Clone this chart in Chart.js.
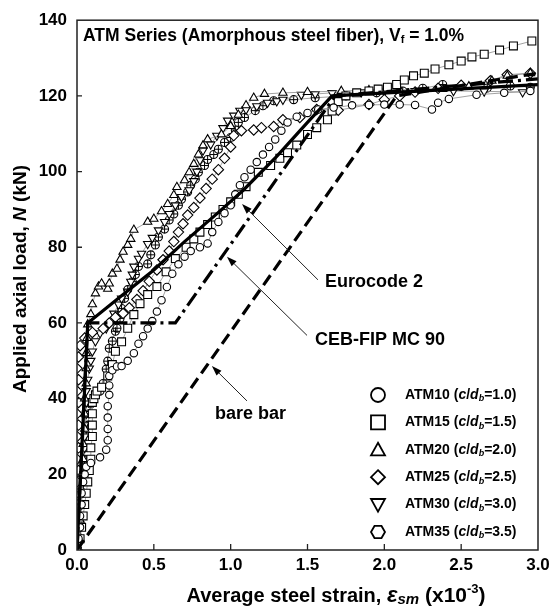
<!DOCTYPE html>
<html lang="en">
<head>
<meta charset="UTF-8">
<title>ATM Series - Applied axial load vs average steel strain</title>
<script src="https://cdn.jsdelivr.net/npm/chart.js"></script>
<style>
  html, body { margin: 0; padding: 0; background: #fff; }
</style>
</head>
<body>
<canvas id="chart" width="560" height="608"></canvas>
<script>
// ---- data (x: strain x10^-3, y: load kN) ----
const atm10 = [[0,0],[0.01,3],[0.02,6],[0.02,9],[0.03,12],[0.03,15],[0.04,18],[0.05,20],[0.06,22],[0.09,23],[0.15,24.5],[0.19,26.5],[0.2,29],[0.2,32],[0.2,35],[0.2,38],[0.21,41],[0.21,43.5],[0.21,46],[0.23,47.5],[0.26,48.5],[0.29,48.6],[0.33,50],[0.37,52],[0.4,54.5],[0.43,56.5],[0.46,58.5],[0.49,60.5],[0.52,63],[0.55,66],[0.585,69.5],[0.62,73],[0.66,75.5],[0.7,77.5],[0.74,79],[0.8,80],[0.85,81],[0.88,84],[0.92,86.7],[0.96,89],[1.0,91.1],[1.03,94],[1.06,96.4],[1.09,98.5],[1.13,100.5],[1.17,102.5],[1.21,104.5],[1.25,106.5],[1.29,108.5],[1.33,110.8],[1.37,113],[1.43,114.5],[1.5,115.5],[1.57,116.4],[1.67,116.9],[1.79,117.5],[1.9,117.6],[2.0,117.7],[2.1,117.7],[2.2,117.6],[2.31,116.4],[2.35,118.2],[2.42,119.2],[2.6,120.3],[2.78,120.8],[2.95,121.3]];
const atm15 = [[0,0],[0.02,3],[0.03,6],[0.04,9],[0.05,12],[0.06,15],[0.07,18],[0.08,21],[0.09,24],[0.09,27],[0.1,30],[0.1,33],[0.1,36],[0.1,39],[0.11,40],[0.12,41],[0.13,42],[0.16,43],[0.2,46],[0.23,49],[0.25,52.5],[0.29,55],[0.33,58.6],[0.37,62.2],[0.41,65.1],[0.46,67.5],[0.52,69.6],[0.58,73.5],[0.64,77],[0.71,80],[0.76,82.2],[0.8,84],[0.85,86],[0.9,88],[0.95,90],[1.0,92],[1.05,94],[1.1,96],[1.18,99.8],[1.26,101.6],[1.32,103.5],[1.37,105],[1.43,107],[1.5,109.8],[1.56,111.6],[1.63,113.7],[1.66,116],[1.7,118.5],[1.75,120],[1.82,120.8],[1.9,121.3],[1.96,121.8],[2.02,122.3],[2.08,123],[2.13,124.2],[2.19,125.3],[2.26,126],[2.33,127.1],[2.42,128.2],[2.5,129.2],[2.57,130.3],[2.65,131],[2.75,132.1],[2.84,133.2],[2.96,134.5]];
const atm20 = [[0,0],[0.01,4],[0.02,8],[0.02,12],[0.03,16],[0.03,20],[0.04,24],[0.04,28],[0.05,32],[0.05,36],[0.05,40],[0.06,44],[0.06,48],[0.06,52],[0.065,56],[0.07,59.6],[0.09,62.3],[0.1,64.9],[0.12,67.8],[0.14,69.6],[0.16,70.4],[0.2,69],[0.21,70.4],[0.23,73],[0.26,74.3],[0.28,76.7],[0.3,78.8],[0.33,80.6],[0.35,82.2],[0.37,84.6],[0.46,86.7],[0.5,87.5],[0.55,89.5],[0.59,91.4],[0.63,93.8],[0.65,95.9],[0.7,97.7],[0.73,99.8],[0.76,102],[0.79,104.5],[0.82,106.9],[0.85,108.5],[0.94,109.8],[1.0,112],[1.05,115],[1.1,117.5],[1.15,119.5],[1.22,120.5],[1.34,120.8],[1.5,121],[1.72,121.3],[1.9,121.5],[2.1,121.6],[2.38,121.8],[2.55,122.5],[2.7,124],[2.8,125.3],[2.95,126]];
const atm25 = [[0,0],[0,3],[0,6],[0,9],[0,12],[0.01,15],[0,18],[0.01,21],[0,24],[0.01,27],[0,30],[0.01,33],[0,36],[0.01,39],[0,42],[0.01,45],[0,48],[0.01,51],[0.02,54],[0.05,56],[0.1,57.5],[0.17,58.5],[0.21,60],[0.25,61.5],[0.3,62.5],[0.34,64],[0.39,66.2],[0.43,68.5],[0.47,71],[0.52,74],[0.56,76.7],[0.6,79],[0.63,81.5],[0.66,84],[0.69,86.2],[0.72,88.5],[0.76,90.5],[0.8,93],[0.84,95.5],[0.88,98],[0.92,100.5],[0.96,103.5],[1.0,106.5],[1.02,109.5],[1.07,110.8],[1.15,111],[1.2,111.6],[1.28,111.9],[1.34,113.7],[1.45,114.3],[1.56,116.4],[1.7,116.2],[1.9,117.7],[2.0,119],[2.1,120],[2.2,121],[2.35,122],[2.5,122.8],[2.69,124],[2.8,125.6],[2.95,126]];
const atm30 = [[0,0],[0.01,3],[0.02,6],[0.02,9],[0.03,12],[0.03,15],[0.04,18],[0.04,21],[0.04,24],[0.05,27],[0.05,30],[0.05,33],[0.06,36],[0.06,39],[0.06,42],[0.07,45],[0.08,48],[0.09,50],[0.1,52.5],[0.12,55.2],[0.15,57.3],[0.19,58.6],[0.24,62.5],[0.27,64.9],[0.29,66.5],[0.33,68.3],[0.35,70.9],[0.36,72.8],[0.37,74.9],[0.4,77],[0.42,78.3],[0.46,80.9],[0.49,82.5],[0.53,84.5],[0.57,86.7],[0.6,88.8],[0.64,91.1],[0.68,93.3],[0.73,95.1],[0.76,97.5],[0.78,100],[0.8,103],[0.82,105.6],[0.87,107.2],[0.91,109.5],[0.95,111.5],[0.98,113.5],[1.02,114.8],[1.06,116.1],[1.1,116.4],[1.17,117.3],[1.24,118.2],[1.3,118.6],[1.34,119],[1.46,120.3],[1.55,120.5],[1.66,120.8],[1.85,121],[2.0,121.2],[2.2,121.3],[2.45,121.3],[2.65,121.2],[2.9,121]];
const atm35 = [[0,0],[0.01,3],[0.02,6],[0.02,9],[0.03,12],[0.03,15],[0.04,18],[0.04,21],[0.05,24],[0.05,27],[0.06,30],[0.07,33],[0.08,36],[0.09,38.6],[0.12,41],[0.15,42],[0.17,44],[0.19,47.8],[0.2,49.9],[0.21,53.3],[0.23,55.2],[0.25,57.8],[0.26,58.6],[0.28,61.2],[0.29,63.8],[0.31,66.5],[0.33,68.8],[0.36,70.9],[0.38,72.8],[0.4,74.9],[0.46,75.6],[0.48,78],[0.51,80.6],[0.53,82.7],[0.57,84.8],[0.6,87.2],[0.63,88.8],[0.66,91.1],[0.68,92.7],[0.72,94.6],[0.74,96.4],[0.77,98],[0.79,99.8],[0.83,101.6],[0.85,103.2],[0.89,104.5],[0.92,105.9],[0.96,107.7],[1.0,109],[1.03,111],[1.05,113],[1.09,114.3],[1.16,116.1],[1.21,117.4],[1.28,118.7],[1.41,119],[1.55,119.5],[1.75,120],[1.95,120.8],[2.12,121.3],[2.25,122],[2.38,123],[2.5,122.5],[2.67,122.1],[2.82,122.6],[2.95,122.3]];

// model predictions
const eurocode2 = [[0,0],[0.07,60],[0.3,67.5],[0.5,74],[0.7,81.5],[0.9,88.5],[1.08,95],[1.3,104],[1.5,113],[1.66,120],[3.0,123]];
const cebFip = [[0,0],[0.07,60],[0.64,60],[1.68,120],[3.0,124.5]];
const bareBar = [[0,0],[2.08,120],[3.0,126]];

const seriesNames = ['ATM10', 'ATM15', 'ATM20', 'ATM25', 'ATM30', 'ATM35'];
const seriesRatios = ['1.0', '1.5', '2.0', '2.5', '3.0', '3.5'];
const xTicks = [0, 0.5, 1.0, 1.5, 2.0, 2.5, 3.0];
const yTicks = [0, 20, 40, 60, 80, 100, 120, 140];

// annotation arrows: [label, labelX, labelY, fromX, fromY, toX, toY]
const notes = [
  ['Eurocode 2', 1.614, 70.9, 1.568, 71.4, 1.074, 91.4],
  ['CEB-FIP MC 90', 1.549, 55.4, 1.497, 56.7, 0.976, 77.5],
  ['bare bar', 0.898, 36.0, 1.106, 39.4, 0.878, 48.6]
];

const FONT = '"Liberation Sans", Arial, Helvetica, sans-serif';
const pts = arr => arr.map(p => ({ x: p[0], y: p[1] }));

function hexPath(g, x, y, r) {
  g.beginPath();
  for (let i = 0; i < 6; i++) {
    const a = Math.PI / 3 * i;
    const px = x + r * Math.cos(a), py = y + r * Math.sin(a);
    if (i === 0) g.moveTo(px, py); else g.lineTo(px, py);
  }
  g.closePath();
}

const markerStyles = [
  { pointStyle: 'circle', radius: 3.7, rotation: 0 },
  { pointStyle: 'rect', radius: 5.6, rotation: 0 },
  { pointStyle: 'triangle', radius: 4.8, rotation: 0 },
  { pointStyle: 'rectRot', radius: 5.2, rotation: 0 },
  { pointStyle: 'triangle', radius: 4.8, rotation: 180 },
  { pointStyle: 'circle', radius: 4.0, rotation: 0 }
];

function expSet(label, arr, i) {
  const m = markerStyles[i];
  return {
    label: label,
    data: pts(arr),
    showLine: true,
    borderColor: '#8a8a8a',
    borderWidth: 0.8,
    pointStyle: m.pointStyle,
    pointRadius: m.radius,
    pointRotation: m.rotation,
    pointBorderColor: '#000',
    pointBackgroundColor: '#fff',
    pointBorderWidth: 1.1
  };
}
// the cross inside the ATM35 markers
function crossSet(arr) {
  return {
    label: 'ATM35 cross',
    data: pts(arr),
    showLine: false,
    pointStyle: 'cross',
    pointRadius: 4.0,
    pointBorderColor: '#000',
    pointBorderWidth: 1
  };
}
function modelSet(label, arr, dash) {
  return {
    label: label,
    data: pts(arr),
    showLine: true,
    borderColor: '#000',
    borderWidth: 3.2,
    borderDash: dash,
    borderCapStyle: 'butt',
    pointRadius: 0,
    fill: false
  };
}

function fontOf(p) {
  return (p.it ? 'italic ' : '') + 'bold ' + p.size + 'px ' + FONT;
}
// draw text made of styled parts
function rich(ctx, parts, x, y, align) {
  const widths = parts.map(p => { ctx.font = fontOf(p); return ctx.measureText(p.t).width; });
  const total = widths.reduce((a, b) => a + b, 0);
  let cx = align === 'center' ? x - total / 2 : (align === 'right' ? x - total : x);
  ctx.textBaseline = 'middle';
  ctx.textAlign = 'left';
  parts.forEach((p, i) => {
    ctx.font = fontOf(p);
    ctx.fillText(p.t, cx, y + (p.dy || 0));
    cx += widths[i];
  });
  return total;
}

function legendMarker(ctx, i, x, y) {
  const r = 7;
  ctx.save();
  ctx.strokeStyle = '#000';
  ctx.lineWidth = 1.8;
  ctx.beginPath();
  if (i === 0) {
    ctx.arc(x, y, r, 0, Math.PI * 2);
  } else if (i === 1) {
    ctx.rect(x - r, y - r, 2 * r, 2 * r);
  } else if (i === 2) {
    ctx.moveTo(x, y - r); ctx.lineTo(x + r, y + r * 0.8); ctx.lineTo(x - r, y + r * 0.8); ctx.closePath();
  } else if (i === 3) {
    ctx.moveTo(x, y - r); ctx.lineTo(x + r, y); ctx.lineTo(x, y + r); ctx.lineTo(x - r, y); ctx.closePath();
  } else if (i === 4) {
    ctx.moveTo(x - r, y - r * 0.8); ctx.lineTo(x + r, y - r * 0.8); ctx.lineTo(x, y + r); ctx.closePath();
  } else {
    hexPath(ctx, x, y, r);
  }
  ctx.stroke();
  ctx.restore();
}

const decor = {
  id: 'decor',
  afterDatasetsDraw(chart) {
    const ctx = chart.ctx;
    const a = chart.chartArea;
    const xs = chart.scales.x, ys = chart.scales.y;
    ctx.save();
    ctx.fillStyle = '#000';

    // frame
    ctx.strokeStyle = '#222';
    ctx.lineWidth = 1.5;
    ctx.strokeRect(a.left, a.top, a.right - a.left, a.bottom - a.top);

    // inward tick marks
    ctx.lineWidth = 1.3;
    ctx.beginPath();
    xTicks.slice(1, -1).forEach(v => {
      const px = xs.getPixelForValue(v);
      ctx.moveTo(px, a.bottom); ctx.lineTo(px, a.bottom - 6);
    });
    yTicks.slice(1, -1).forEach(v => {
      const py = ys.getPixelForValue(v);
      ctx.moveTo(a.left, py); ctx.lineTo(a.left + 5, py);
    });
    ctx.stroke();

    // annotation arrows and labels
    ctx.lineWidth = 1;
    notes.forEach(n => {
      const x0 = xs.getPixelForValue(n[3]), y0 = ys.getPixelForValue(n[4]);
      const x1 = xs.getPixelForValue(n[5]), y1 = ys.getPixelForValue(n[6]);
      const ang = Math.atan2(y1 - y0, x1 - x0);
      const hl = 10, hw = 3.5;
      const bx = x1 - hl * Math.cos(ang), by = y1 - hl * Math.sin(ang);
      ctx.beginPath();
      ctx.moveTo(x0, y0); ctx.lineTo(bx, by);
      ctx.stroke();
      ctx.beginPath();
      ctx.moveTo(x1, y1);
      ctx.lineTo(bx + hw * Math.sin(ang), by - hw * Math.cos(ang));
      ctx.lineTo(bx - hw * Math.sin(ang), by + hw * Math.cos(ang));
      ctx.closePath();
      ctx.fill();
      rich(ctx, [{ t: n[0], size: 18 }], xs.getPixelForValue(n[1]), ys.getPixelForValue(n[2]), 'left');
    });

    // title inside the plot
    rich(ctx, [
      { t: 'ATM Series (Amorphous steel fiber), V', size: 17.5 },
      { t: 'f', size: 11, dy: 4 },
      { t: ' = 1.0%', size: 17.5 }
    ], a.left + 6, a.top + 16, 'left');

    // legend
    seriesNames.forEach((name, i) => {
      const y = a.bottom - 155 + i * 27.4;
      legendMarker(ctx, i, a.right - 160, y);
      rich(ctx, [
        { t: name + ' (', size: 14 },
        { t: 'c', size: 14, it: true },
        { t: '/', size: 14 },
        { t: 'd', size: 14, it: true },
        { t: 'b', size: 9, it: true, dy: 4 },
        { t: '=' + seriesRatios[i] + ')', size: 14 }
      ], a.right - 133, y, 'left');
    });

    // x axis title
    rich(ctx, [
      { t: 'Average steel strain, ', size: 20 },
      { t: 'ε', size: 22, it: true },
      { t: 'sm', size: 15, it: true, dy: 4 },
      { t: ' (x10', size: 21 },
      { t: '-3', size: 13, dy: -7 },
      { t: ')', size: 21 }
    ], 336, 596, 'center');

    ctx.translate(21, 279);
    ctx.rotate(-Math.PI / 2);
    rich(ctx, [
      { t: 'Applied axial load, ', size: 19 },
      { t: 'N', size: 19, it: true },
      { t: ' (kN)', size: 19 }
    ], 0, 0, 'center');
    ctx.restore();
  }
};

Chart.defaults.font.family = FONT;
Chart.defaults.color = '#000';

new Chart(document.getElementById('chart'), {
  type: 'scatter',
  data: {
    datasets: [
      modelSet('Eurocode 2', eurocode2, []),
      modelSet('CEB-FIP MC 90', cebFip, [15, 5, 3, 5]),
      modelSet('bare bar', bareBar, [12, 6]),
      expSet(seriesNames[0], atm10, 0),
      expSet(seriesNames[1], atm15, 1),
      expSet(seriesNames[2], atm20, 2),
      expSet(seriesNames[3], atm25, 3),
      expSet(seriesNames[4], atm30, 4),
      crossSet(atm35),
      expSet(seriesNames[5], atm35, 5)
    ]
  },
  options: {
    responsive: false,
    animation: false,
    layout: { padding: { left: 0, top: 17, right: 22, bottom: 0 } },
    plugins: { legend: { display: false }, tooltip: { enabled: false } },
    scales: {
      x: {
        type: 'linear', min: 0, max: 3,
        afterFit: s => { s.height = 58; },
        afterBuildTicks: s => { s.ticks = xTicks.map(v => ({ value: v })); },
        ticks: {
          callback: v => Number(v).toFixed(1),
          font: { size: 17, weight: 'bold' },
          color: '#000', padding: 5, maxRotation: 0, autoSkip: false
        },
        grid: { display: false, drawTicks: false },
        border: { display: false }
      },
      y: {
        type: 'linear', min: 0, max: 140,
        afterFit: s => { s.width = 77; },
        afterBuildTicks: s => { s.ticks = yTicks.map(v => ({ value: v })); },
        ticks: {
          font: { size: 17, weight: 'bold' },
          color: '#000', padding: 10, autoSkip: false
        },
        grid: { display: false, drawTicks: false },
        border: { display: false }
      }
    }
  },
  plugins: [decor]
});
</script>
</body>
</html>
